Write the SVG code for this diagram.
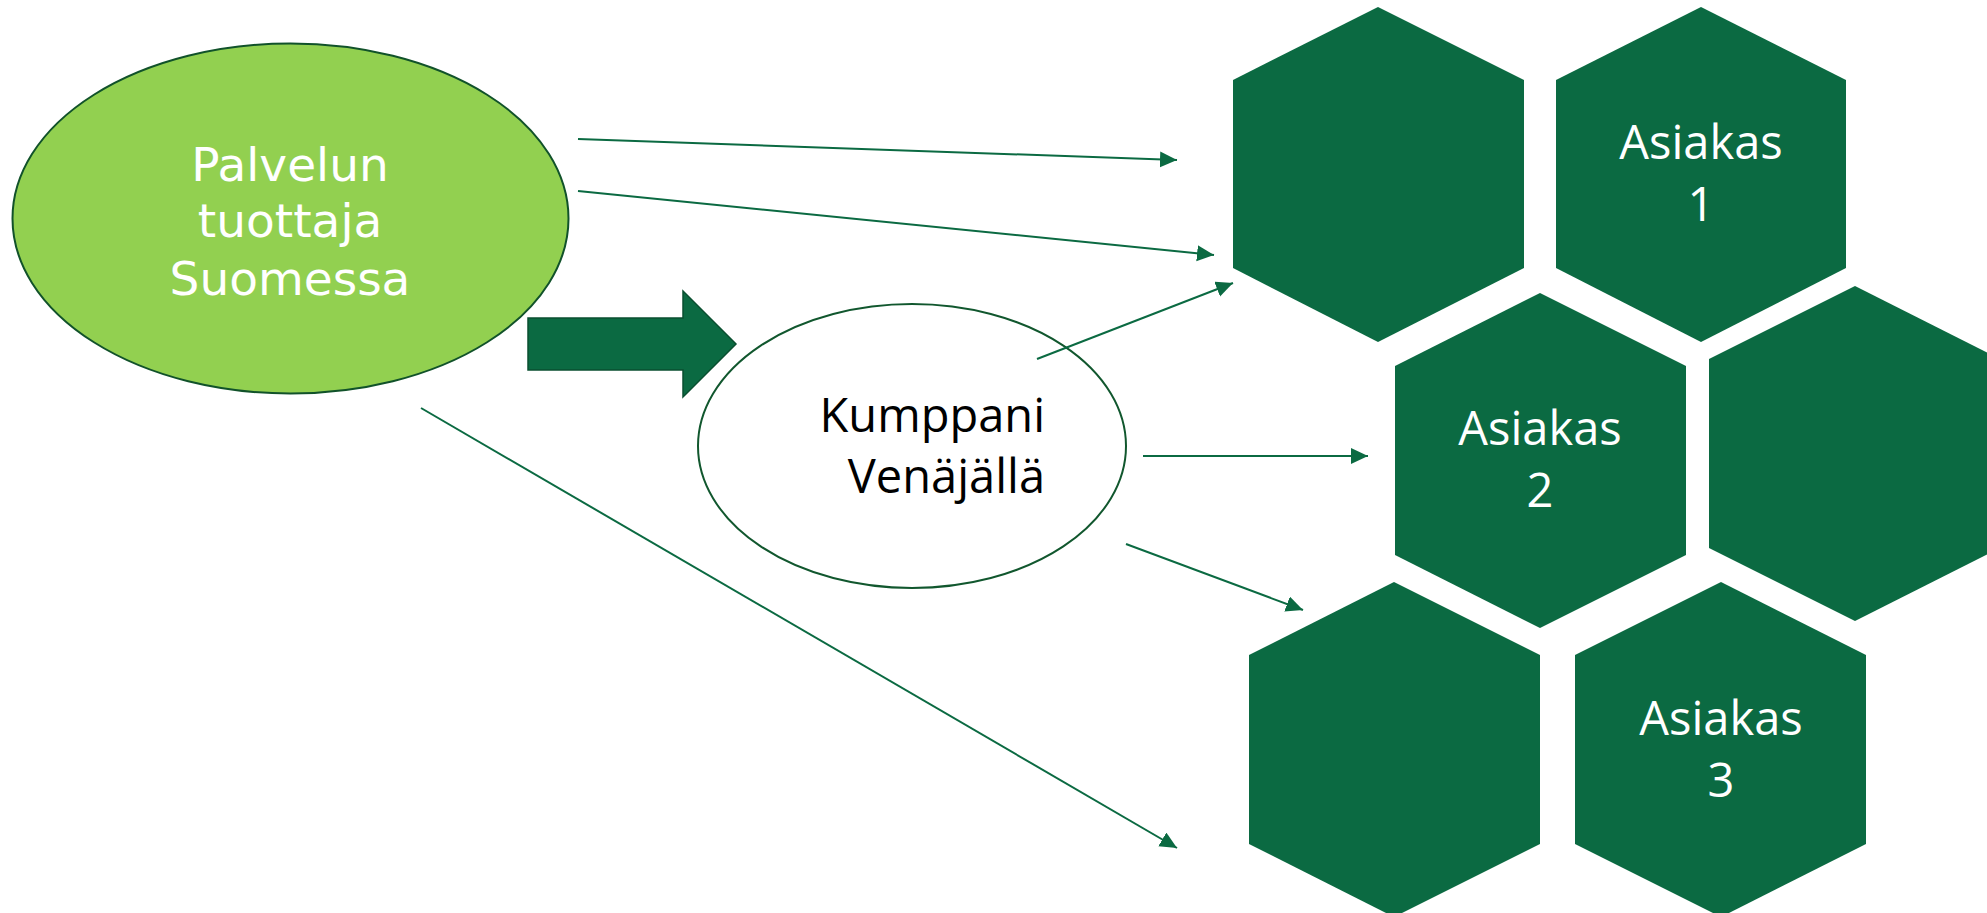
<svg xmlns="http://www.w3.org/2000/svg" width="1987" height="913" viewBox="0 0 1987 913">
<defs>
<marker id="ah" markerUnits="userSpaceOnUse" markerWidth="19" markerHeight="17" refX="17" refY="8" orient="auto">
<path d="M0,0 L17,8 L0,16 Z" fill="#0B6A42"/>
</marker>
<style>
.hex{fill:#0B6A42;stroke:none}
.conn{stroke:#0B6A42;stroke-width:2;fill:none;marker-end:url(#ah)}
.hl{font-family:"Open Sans","Liberation Sans",sans-serif;font-size:47px;fill:#FFFFFF;text-anchor:middle}
.gl{font-family:"DejaVu Sans","Liberation Sans",sans-serif;font-size:47px;fill:#FFFFFF;text-anchor:middle}
.kl{font-family:"Open Sans","Liberation Sans",sans-serif;font-size:47px;fill:#000000;text-anchor:end}
</style>
</defs>
<rect width="1987" height="913" fill="#FFFFFF"/>
<g id="hex-a"><polygon class="hex" points="1378,7 1524,80 1524,268 1378,342 1233,268 1233,80"/></g>
<g id="hex-asiakas1"><polygon class="hex" points="1701,7 1846,80 1846,268 1701,342 1556,268 1556,80"/>
<text class="hl" x="1701" y="159">Asiakas</text><text class="hl" x="1701" y="221">1</text></g>
<g id="hex-asiakas2"><polygon class="hex" points="1540,293 1686,366 1686,555 1540,628 1395,555 1395,366"/>
<text class="hl" x="1540" y="445">Asiakas</text><text class="hl" x="1540" y="507">2</text></g>
<g id="hex-d"><polygon class="hex" points="1855,286 2000,359 2000,548 1855,621 1709,548 1709,359"/></g>
<g id="hex-e"><polygon class="hex" points="1394,582 1540,655 1540,844 1394,917 1249,844 1249,655"/></g>
<g id="hex-asiakas3"><polygon class="hex" points="1721,582 1866,655 1866,844 1721,917 1575,844 1575,655"/>
<text class="hl" x="1721" y="735">Asiakas</text><text class="hl" x="1721" y="797">3</text></g>
<g id="palvelun">
<ellipse cx="290.5" cy="218.5" rx="278" ry="175" fill="#92D050" stroke="#11522A" stroke-width="2"/>
<text class="gl" x="290" y="181">Palvelun</text>
<text class="gl" x="290" y="237">tuottaja</text>
<text class="gl" x="290" y="295">Suomessa</text>
</g>
<g id="kumppani">
<ellipse cx="912" cy="446" rx="214" ry="142" fill="#FFFFFF" stroke="#11572E" stroke-width="2"/>
<text class="kl" x="1045" y="432">Kumppani</text>
<text class="kl" x="1045" y="493">Venäjällä</text>
</g>
<g id="block-arrow">
<polygon points="528,318 683,318 683,291 736,344 683,397 683,370 528,370" fill="#0B6A42" stroke="#0A4F30" stroke-width="1.5"/>
</g>
<g id="connectors">
<line class="conn" x1="578" y1="139" x2="1177" y2="160"/>
<line class="conn" x1="578" y1="191" x2="1214" y2="255"/>
<line class="conn" x1="1037" y1="359" x2="1233" y2="283"/>
<line class="conn" x1="1143" y1="456" x2="1368" y2="456"/>
<line class="conn" x1="1126" y1="544" x2="1303" y2="610"/>
<line class="conn" x1="421" y1="408" x2="1177" y2="848"/>
</g>
</svg>
